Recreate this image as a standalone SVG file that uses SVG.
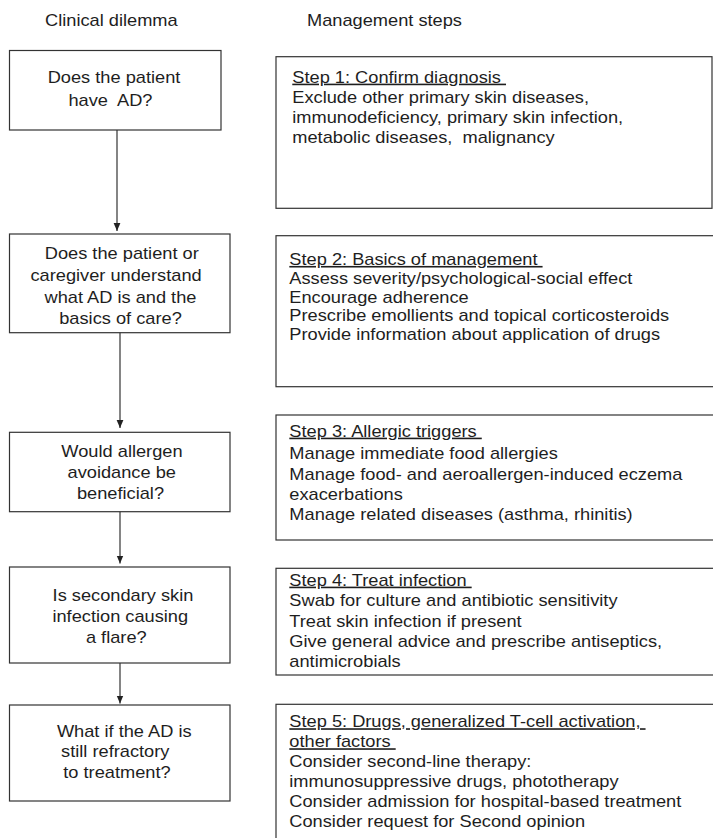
<svg xmlns="http://www.w3.org/2000/svg" width="713" height="838" viewBox="0 0 713 838">
<style>
  rect.box { fill: #ffffff; stroke: #333333; stroke-width: 1.2; }
  text { font-family: "Liberation Sans", Arial, sans-serif; font-size: 16px; fill: #1e1e1e; }
  text.c { text-anchor: middle; }
  .u { text-decoration: underline; }
  line.conn { stroke: #333333; stroke-width: 1.2; }
</style>
<defs>
  <marker id="arr" markerUnits="userSpaceOnUse" markerWidth="8" markerHeight="9" refX="8.5" refY="3.6" orient="auto" viewBox="0 0 8.5 7.2">
    <path d="M0,0 L8.5,3.6 L0,7.2 Z" fill="#222222"/>
  </marker>
</defs>
<rect width="713" height="838" fill="#ffffff"/>

<g id="headers" transform="scale(1.14 1)">
  <text x="39.5" y="26">Clinical dilemma</text>
  <text x="269.3" y="26">Management steps</text>
</g>

<g id="q1">
  <rect class="box" x="9.5" y="50.5" width="211.5" height="79.5"/>
  <g transform="scale(1.14 1)">
    <text class="c" x="100" y="82.7">Does the patient</text>
    <text class="c" x="96.9" y="106" xml:space="preserve">have  AD?</text>
  </g>
</g>

<g id="q2">
  <rect class="box" x="9.5" y="234" width="220.5" height="98.7"/>
  <g transform="scale(1.14 1)">
    <text class="c" x="106.8" y="259.3">Does the patient or</text>
    <text class="c" x="101.8" y="281">caregiver understand</text>
    <text class="c" x="105.7" y="302.8">what AD is and the</text>
    <text class="c" x="105.7" y="324">basics of care?</text>
  </g>
</g>

<g id="q3">
  <rect class="box" x="9.5" y="432.3" width="220.5" height="79.4"/>
  <g transform="scale(1.14 1)">
    <text class="c" x="107" y="456.7">Would allergen</text>
    <text class="c" x="106.8" y="478.3">avoidance be</text>
    <text class="c" x="105.7" y="499.3">beneficial?</text>
  </g>
</g>

<g id="q4">
  <rect class="box" x="9.5" y="567" width="220.5" height="96"/>
  <g transform="scale(1.14 1)">
    <text class="c" x="107.9" y="601">Is secondary skin</text>
    <text class="c" x="105.5" y="621.7">infection causing</text>
    <text class="c" x="102" y="642.7">a flare?</text>
  </g>
</g>

<g id="q5">
  <rect class="box" x="9.5" y="705" width="220.5" height="96"/>
  <g transform="scale(1.14 1)">
    <text class="c" x="109" y="736.7">What if the AD is</text>
    <text class="c" x="101.1" y="757.3">still refractory</text>
    <text class="c" x="102.6" y="778.3">to treatment?</text>
  </g>
</g>

<g id="s1">
  <rect class="box" x="276" y="56.7" width="436" height="151.6"/>
  <g transform="scale(1.14 1)">
    <text x="256.4" y="82.7" xml:space="preserve"><tspan class="u">Step 1: Confirm diagnosis </tspan></text>
    <text x="256.4" y="102.7">Exclude other primary skin diseases,</text>
    <text x="256.4" y="122.7">immunodeficiency, primary skin infection,</text>
    <text x="256.4" y="143" xml:space="preserve">metabolic diseases,  malignancy</text>
  </g>
</g>

<g id="s2">
  <rect class="box" x="276" y="235.7" width="445" height="151"/>
  <g transform="scale(1.14 1)">
    <text x="253.8" y="265" xml:space="preserve"><tspan class="u">Step 2: Basics of management </tspan></text>
    <text x="253.8" y="284.5">Assess severity/psychological-social effect</text>
    <text x="253.8" y="303">Encourage adherence</text>
    <text x="253.8" y="321.5">Prescribe emollients and topical corticosteroids</text>
    <text x="253.8" y="340">Provide information about application of drugs</text>
  </g>
</g>

<g id="s3">
  <rect class="box" x="276" y="415" width="445" height="125"/>
  <g transform="scale(1.14 1)">
    <text x="253.8" y="436.7" xml:space="preserve"><tspan class="u">Step 3: Allergic triggers </tspan></text>
    <text x="253.8" y="459">Manage immediate food allergies</text>
    <text x="253.8" y="480.5">Manage food- and aeroallergen-induced eczema</text>
    <text x="253.8" y="500">exacerbations</text>
    <text x="253.8" y="520">Manage related diseases (asthma, rhinitis)</text>
  </g>
</g>

<g id="s4">
  <rect class="box" x="276" y="568.3" width="445" height="106.7"/>
  <g transform="scale(1.14 1)">
    <text x="253.8" y="585.7" xml:space="preserve"><tspan class="u">Step 4: Treat infection </tspan></text>
    <text x="253.8" y="606.5">Swab for culture and antibiotic sensitivity</text>
    <text x="253.8" y="626.7">Treat skin infection if present</text>
    <text x="253.8" y="647.2">Give general advice and prescribe antiseptics,</text>
    <text x="253.8" y="667.3">antimicrobials</text>
  </g>
</g>

<g id="s5">
  <rect class="box" x="276" y="704.3" width="445" height="145"/>
  <g transform="scale(1.14 1)">
    <text x="253.8" y="727.3" xml:space="preserve"><tspan class="u">Step 5: Drugs, generalized T-cell activation, </tspan></text>
    <text x="253.8" y="747.3" xml:space="preserve"><tspan class="u">other factors </tspan></text>
    <text x="253.8" y="767.3">Consider second-line therapy:</text>
    <text x="253.8" y="787.3">immunosuppressive drugs, phototherapy</text>
    <text x="253.8" y="806.8">Consider admission for hospital-based treatment</text>
    <text x="253.8" y="826.7">Consider request for Second opinion</text>
  </g>
</g>

<g id="connectors">
  <line class="conn" x1="117" y1="130" x2="117" y2="231" marker-end="url(#arr)"/>
  <line class="conn" x1="120" y1="332.7" x2="120" y2="428" marker-end="url(#arr)"/>
  <line class="conn" x1="120" y1="511.7" x2="120" y2="563.5" marker-end="url(#arr)"/>
  <line class="conn" x1="120" y1="663" x2="120" y2="703.5" marker-end="url(#arr)"/>
</g>
</svg>
